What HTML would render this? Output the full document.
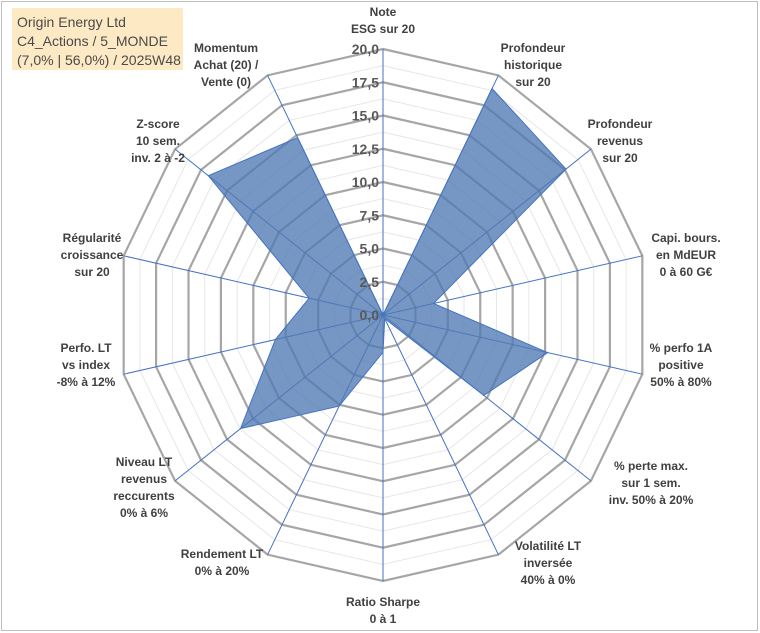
<!DOCTYPE html>
<html><head><meta charset="utf-8"><style>
body{margin:0;background:#fff}
svg{display:block;font-family:"Liberation Sans",sans-serif}
.lbl{font-size:12px;font-weight:bold;fill:#404040;text-anchor:middle}
.tick{font-size:14px;font-weight:bold;fill:#595959;text-anchor:end}
</style></head><body>
<svg id="chart" width="760" height="633">
<rect x="1.5" y="1.5" width="756" height="629" fill="#fff" stroke="#bfbfbf"/>
<g id="grid"></g>
<g id="series"></g>
<g id="ticks"></g>
<rect x="12" y="8" width="171" height="62" fill="#fde9c4"/>
<text x="17" y="27" font-family="Liberation Sans" font-size="14" fill="#4a4a4a">Origin Energy Ltd</text>
<text x="17" y="46" font-size="14" fill="#4a4a4a">C4_Actions / 5_MONDE</text>
<text x="17" y="65" font-size="14" fill="#4a4a4a">(7,0% | 56,0%) / 2025W48</text>
<g id="labels"></g>
</svg>
<script>
const categories=[["Note","ESG sur 20"],["Profondeur","historique","sur 20"],["Profondeur","revenus","sur 20"],["Capi. bours.","en MdEUR","0 à 60 G€"],["% perfo 1A","positive","50% à 80%"],["% perte max.","sur 1 sem.","inv. 50% à 20%"],["Volatilité LT","inversée","40% à 0%"],["Ratio Sharpe","0 à 1"],["Rendement LT","0% à 20%"],["Niveau LT","revenus","reccurents","0% à 6%"],["Perfo. LT","vs index","-8% à 12%"],["Régularité","croissance","sur 20"],["Z-score","10 sem.","inv. 2 à -2"],["Momentum","Achat (20) /","Vente (0)"]];
const values=[0,18.9,17.6,3.9,12.7,9.7,0.3,2.8,7.6,13.7,8.3,5.7,16.8,14.8];
const tickLabels=["0,0","2,5","5,0","7,5","10,0","12,5","15,0","17,5","20,0"];
const maxVal=20;
const cx=383,cy=315,R=266,N=categories.length;
const labelPos=[[383,16],[533,52],[620,128],[686,242],[681,352],[651,470],[548,550],[383,606],[222,558],[144,466],[86,352],[92,242],[158,128],[226,52]];
const NS="http://www.w3.org/2000/svg";
function ang(i){return -Math.PI/2+i*2*Math.PI/N;}
function pt(i,v){const r=v/maxVal*R,a=ang(i);return [cx+r*Math.cos(a),cy+r*Math.sin(a)];}
function mk(t,at,p){const e=document.createElementNS(NS,t);for(const k in at)e.setAttribute(k,at[k]);p.appendChild(e);return e;}
const grid=document.getElementById('grid');
for(let k=1;k<=16;k++){const v=k*1.25;const pts=[];for(let i=0;i<N;i++)pts.push(pt(i,v).join(','));
 const major=k%2===0;
 const e=mk('polygon',{points:pts.join(' '),fill:'none',stroke:major?'#a6a6a6':'#e6e6e6','stroke-width':major?2.2:1},grid);
 
 }
for(let i=0;i<N;i++){const p=pt(i,maxVal);const e=mk('line',{x1:cx,y1:cy,x2:p[0],y2:p[1],stroke:'#4472c4','stroke-width':1},grid);
 
 }
const ser=document.getElementById('series');
const poly=mk('polygon',{points:values.map((v,i)=>pt(i,v).join(',')).join(' '),fill:'rgba(79,122,179,0.78)',stroke:'#4472c4','stroke-width':1},ser);


const tk=document.getElementById('ticks');
tickLabels.forEach((t,k)=>{const p=pt(0,k*2.5);const e=mk('text',{x:cx-4,y:p[1]+5,class:'tick'},tk);e.textContent=t;
 
 });
const lb=document.getElementById('labels');
categories.forEach((lines,i)=>{const [x,y]=labelPos[i];const g=mk('text',{x:x,y:y,class:'lbl'},lb);
 
 
 lines.forEach((l,j)=>{const s=mk('tspan',{x:x,dy:j?17:0},g);s.textContent=l;});});
</script>
</body></html>
